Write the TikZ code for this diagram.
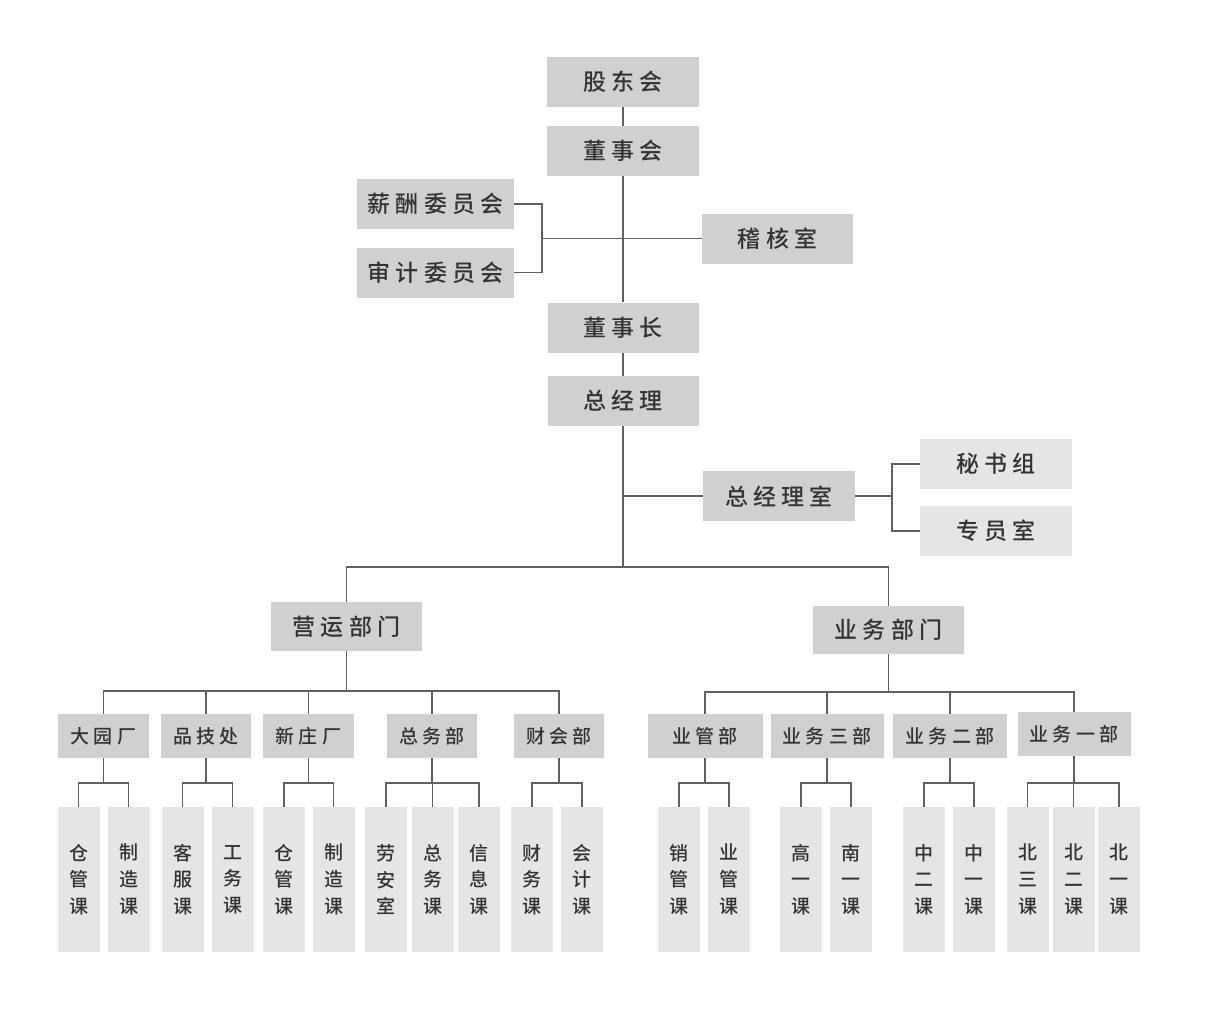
\documentclass[tikz,border=0pt]{standalone}
\usepackage{fontspec}
\setmainfont{Noto Sans CJK SC}[UprightFont=* Medium, BoldFont=* Medium]
\usetikzlibrary{positioning}

\definecolor{boxGray}{HTML}{D1D0D0}
\definecolor{paleGray}{HTML}{E5E5E5}
\definecolor{lineGray}{HTML}{606060}
\definecolor{textGray}{HTML}{333333}

\tikzset{
  box/.style={fill=boxGray, minimum width=152pt, minimum height=50pt, inner sep=0pt,
    text=textGray, font=\fontsize{23}{23}\selectfont},
  palebox/.style={box, fill=paleGray},
  unit/.style={box, minimum height=44pt, font=\fontsize{19}{19}\selectfont},
  leaf/.style={fill=paleGray, minimum width=42pt, minimum height=145pt, inner sep=0pt,
    align=center, text=textGray, font=\fontsize{19}{26.7}\selectfont},
  link/.style={draw=lineGray, line width=1.1pt}
}

\begin{document}
\begin{tikzpicture}[x=1pt,y=-1pt]
  \useasboundingbox (0,0) rectangle (1209,1012);

  % top levels
  \node[box] (gdh) at (623,82) {股 东 会};
  \node[box] (dsh) at (623,151) {董 事 会};
  \node[box, minimum width=157pt] (xc) at (435.5,204) {薪 酬 委 员 会};
  \node[box, minimum width=157pt] (sj) at (435.5,272.5) {审 计 委 员 会};
  \node[box, minimum width=151pt] (jhs) at (777.5,238.5) {稽 核 室};
  \node[box, minimum width=151pt] (dsz) at (623,327.5) {董 事 长};
  \node[box, minimum width=151pt] (zjl) at (623,401) {总 经 理};
  \node[box] (zjls) at (779,496) {总 经 理 室};
  \node[palebox] (msz) at (996,464) {秘 书 组};
  \node[palebox] (zys) at (996,531) {专 员 室};
  \coordinate (cb) at (542,238.5);
  \coordinate (sb) at (892,496);

  \draw[link] (gdh) -- (dsh);
  \draw[link] (dsh) -- (dsz);
  \draw[link] (dsz) -- (zjl);
  \draw[link] (xc.east) -| (cb) |- (sj.east);
  \draw[link] (cb) -- (jhs.west);
  \draw[link] (zjl.south) -- (zjl.south |- 0,567);
  \draw[link] (zjls.west) -- (zjls.west -| zjl.south);
  \draw[link] (zjls.east) -- (sb);
  \draw[link] (msz.west) -| (sb) |- (zys.west);

  % departments
  \node[box, minimum width=151pt, minimum height=49pt] (yy) at (346.5,626.5) {营 运 部 门};
  \node[box, minimum width=151pt, minimum height=48pt] (yw) at (888.5,630) {业 务 部 门};
  \draw[link] (yy.north) |- (yw.north |- 0,567) -- (yw.north);

  % units
  \node[unit, minimum width=91pt] (dyc) at (103.5,736) {大 园 厂};
  \node[unit, minimum width=90pt] (pjc) at (206,736) {品 技 处};
  \node[unit, minimum width=91pt] (xzc) at (308.5,736) {新 庄 厂};
  \node[unit, minimum width=90pt] (zwb) at (432,736) {总 务 部};
  \node[unit, minimum width=90pt] (ckb) at (559,736) {财 会 部};
  \node[unit, minimum width=115pt] (ygb) at (705,736) {业 管 部};
  \node[unit, minimum width=113pt] (yw3) at (827,736) {业 务 三 部};
  \node[unit, minimum width=114pt] (yw2) at (950,736) {业 务 二 部};
  \node[unit, minimum width=113pt] (yw1) at (1074,734) {业 务 一 部};

  \draw[link] (yy.south) -- (yy.south |- 0,691);
  \draw[link] (dyc.north) |- (ckb.north |- 0,691) -- (ckb.north);
  \foreach \u in {pjc,xzc,zwb}
    \draw[link] (\u.north) -- (\u.north |- 0,691);
  \draw[link] (yw.south) -- (yw.south |- 0,692);
  \draw[link] (ygb.north) |- (yw1.north |- 0,692) -- (yw1.north);
  \draw[link] (yw3.north) -- (yw3.north |- 0,692);
  \draw[link] (yw2.north) -- (yw2.north |- 0,692);

  % sections
  \foreach \n/\x/\t in {a1/78.5/{仓\\管\\课}, a2/128.5/{制\\造\\课},
      b1/182.5/{客\\服\\课}, b2/232.5/{工\\务\\课},
      c1/284/{仓\\管\\课}, c2/333.5/{制\\造\\课},
      d1/386/{劳\\安\\室}, d2/432.5/{总\\务\\课}, d3/479/{信\\息\\课},
      e1/532/{财\\务\\课}, e2/582/{会\\计\\课},
      f1/679/{销\\管\\课}, f2/729/{业\\管\\课},
      g1/801/{高\\一\\课}, g2/851/{南\\一\\课},
      h1/924/{中\\二\\课}, h2/974/{中\\一\\课},
      k1/1027.5/{北\\三\\课}, k2/1073.5/{北\\二\\课}, k3/1119/{北\\一\\课}}
    \node[leaf] (\n) at (\x,879.5) {\t};

  \foreach \p/\l/\r in {dyc/a1/a2, pjc/b1/b2, xzc/c1/c2, zwb/d1/d3, ckb/e1/e2,
      ygb/f1/f2, yw3/g1/g2, yw2/h1/h2, yw1/k1/k3} {
    \draw[link] (\p.south) -- (\p.south |- 0,783);
    \draw[link] (\l.north) |- (\r.north |- 0,783) -- (\r.north);
  }
  \draw[link] (d2.north) -- (d2.north |- 0,783);
  \draw[link] (k2.north) -- (k2.north |- 0,783);
\end{tikzpicture}
\end{document}
